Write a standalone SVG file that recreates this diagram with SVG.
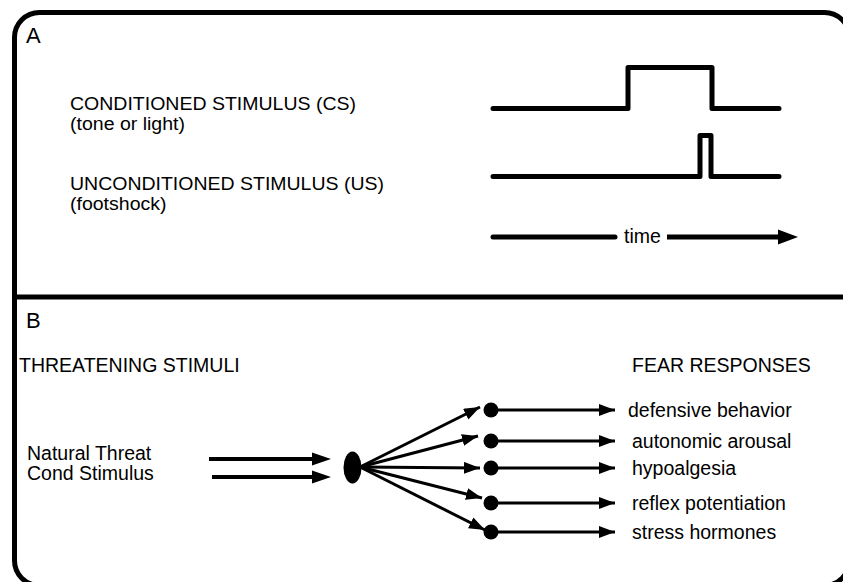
<svg xmlns="http://www.w3.org/2000/svg" width="843" height="582" viewBox="0 0 843 582">
<style>
text{font-family:"Liberation Sans",Arial,sans-serif;fill:#000;}
.t{font-size:19.5px;}
.s{font-size:18px;}
.big{font-size:22px;}
.wave{fill:none;stroke:#000;stroke-width:5;stroke-linecap:round;stroke-linejoin:round;}
.fan{fill:none;stroke:#000;stroke-width:3;}
.in{fill:none;stroke:#000;stroke-width:4;}
</style>
<defs>
<marker id="ah" markerUnits="userSpaceOnUse" markerWidth="17" markerHeight="13" refX="16" refY="6" orient="auto">
<path d="M0,0 L16,6 L0,12 z" fill="#000"/>
</marker>
</defs>
<rect width="843" height="582" fill="#fff"/>
<g id="frame">
<rect x="14.5" y="12.5" width="835" height="573" rx="25" ry="25" fill="none" stroke="#000" stroke-width="5"/>
<line x1="14.5" y1="297" x2="843" y2="297" stroke="#000" stroke-width="5"/>
</g>
<g id="panel-a">
<text class="big" x="26" y="43">A</text>
<g id="cs-label"><text class="s" x="70" y="109.5" textLength="286" lengthAdjust="spacingAndGlyphs">CONDITIONED STIMULUS (CS)</text><text class="s" x="70" y="130" textLength="115" lengthAdjust="spacingAndGlyphs">(tone or light)</text></g>
<g id="us-label"><text class="s" x="70" y="189.5" textLength="314" lengthAdjust="spacingAndGlyphs">UNCONDITIONED STIMULUS (US)</text><text class="s" x="70" y="210" textLength="96.5" lengthAdjust="spacingAndGlyphs">(footshock)</text></g>
<g id="cs-wave"><path class="wave" d="M493,108.5 H628 V67.5 H712 V108.5 H779"/></g>
<g id="us-wave"><path class="wave" d="M493,176.5 H700 V135.5 H711 V176.5 H779"/></g>
<g id="time-axis">
<line class="wave" x1="493" y1="237" x2="615" y2="237"/>
<text class="t" x="624" y="243">time</text>
<line x1="667" y1="237" x2="780" y2="237" stroke="#000" stroke-width="5"/>
<path d="M778,229.5 L798,237 L778,244.5 z" fill="#000"/>
</g>
</g>
<g id="panel-b">
<text class="big" x="26" y="328">B</text>
<text class="t" x="19" y="372">THREATENING STIMULI</text>
<text class="t" x="632" y="372">FEAR RESPONSES</text>
<g id="inputs"><text class="t" x="27" y="460">Natural Threat</text><text class="t" x="27" y="480">Cond Stimulus</text></g>
<g id="hub"><ellipse cx="352.5" cy="467.5" rx="9" ry="16" fill="#000"/></g>
<g id="dot1"><circle cx="491" cy="410" r="7.5" fill="#000"/><text class="t" x="628" y="417">defensive behavior</text></g>
<g id="dot2"><circle cx="491" cy="441" r="7.5" fill="#000"/><text class="t" x="632" y="448">autonomic arousal</text></g>
<g id="dot3"><circle cx="491" cy="468" r="7.5" fill="#000"/><text class="t" x="632" y="475">hypoalgesia</text></g>
<g id="dot4"><circle cx="491" cy="503" r="7.5" fill="#000"/><text class="t" x="632" y="510">reflex potentiation</text></g>
<g id="dot5"><circle cx="491" cy="532" r="7.5" fill="#000"/><text class="t" x="632" y="539">stress hormones</text></g>
</g>
<g id="connectors">
<line class="in" x1="209" y1="459" x2="314" y2="459"/>
<path d="M312,452.5 L331,459 L312,465.5 z" fill="#000"/>
<line class="in" x1="212" y1="477" x2="314" y2="477"/>
<path d="M312,470.5 L331,477 L312,483.5 z" fill="#000"/>
<line class="fan" x1="360" y1="467" x2="480" y2="407" marker-end="url(#ah)"/>
<line class="fan" x1="360" y1="467" x2="478" y2="436" marker-end="url(#ah)"/>
<line class="fan" x1="360" y1="467" x2="480" y2="468" marker-end="url(#ah)"/>
<line class="fan" x1="360" y1="467" x2="482" y2="498" marker-end="url(#ah)"/>
<line class="fan" x1="360" y1="467" x2="485" y2="530" marker-end="url(#ah)"/>
<line class="fan" x1="491" y1="410" x2="615" y2="410" marker-end="url(#ah)"/>
<line class="fan" x1="491" y1="441" x2="615" y2="441" marker-end="url(#ah)"/>
<line class="fan" x1="491" y1="468" x2="615" y2="468" marker-end="url(#ah)"/>
<line class="fan" x1="491" y1="503" x2="615" y2="503" marker-end="url(#ah)"/>
<line class="fan" x1="491" y1="532" x2="615" y2="532" marker-end="url(#ah)"/>
</g>
</svg>
